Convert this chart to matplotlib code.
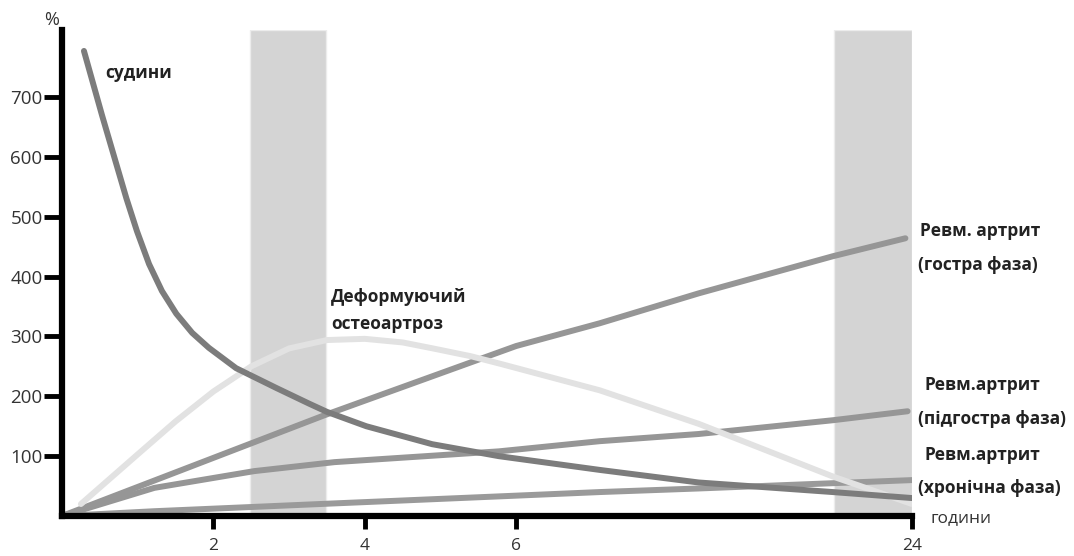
import numpy as np
import matplotlib
matplotlib.use("Agg")
import matplotlib.pyplot as plt

plt.rcParams['font.family'] = ['Open Sans', 'DejaVu Sans']

# ---- data (hours, %) ----
sudyny_h = [0.29, 0.53, 0.69, 0.85, 0.99, 1.15, 1.32, 1.51, 1.72, 1.94, 2.30, 2.83,
            3.26, 3.5, 4.02, 4.89, 5.77, 9.8, 14.3, 20.4, 24.0]
sudyny_v = [777, 669, 600, 531, 476, 421, 376, 338, 306, 281, 247, 214,
            188, 174, 150, 120, 100, 77, 56, 40, 30]

osteo_h = [0.25, 1.0, 1.5, 2.0, 2.5, 3.0, 3.5, 4.0, 4.5, 4.9, 5.4, 5.8, 9.8, 14.3, 20.4, 24.0]
osteo_v = [20, 103, 158, 208, 250, 280, 294, 296, 290, 280, 267, 254, 210, 154, 66, 20]

acute_h = [0, 3.46, 6.0, 9.8, 14.3, 20.4, 23.7]
acute_v = [0, 168, 284, 322, 372, 434, 464]

subacute_h = [0, 1.22, 2.54, 3.6, 5.77, 9.8, 14.3, 20.4, 23.8]
subacute_v = [0, 47, 75, 90, 108, 125, 137, 160, 175]

chronic_h = [0, 1.22, 3.59, 6.0, 9.8, 14.3, 24.0]
chronic_v = [0, 8, 21, 34, 40, 46, 60]

band1 = (2.49, 3.49)
band2 = (20.45, 24.0)

x_ticks = [2, 4, 6, 24]
y_ticks = [100, 200, 300, 400, 500, 600, 700]

# ---- piecewise hour scale: 0..6 linear, 6..24 compressed ----
K = 5.23 / 18.0
def fwd(h):
    h = np.asarray(h, dtype=float)
    return np.where(h <= 6, h, 6 + (h - 6) * K)
def inv(p):
    p = np.asarray(p, dtype=float)
    return np.where(p <= 6, p, 6 + (p - 6) / K)

W, H = 1074, 556
fig = plt.figure(figsize=(W / 100, H / 100), dpi=100)
ax = fig.add_axes([62 / W, (H - 516) / H, (912 - 62) / W, (516 - 30) / H])
ax.set_xscale('function', functions=(fwd, inv))
ax.set_xlim(0, 24)
ax.set_ylim(0, 812)

# bands
for b in (band1, band2):
    ax.axvspan(b[0], b[1], ymin=0, ymax=1, facecolor='#d4d4d4', edgecolor='#ececec',
               linewidth=1, zorder=1)

lw = 4.3
kw = dict(solid_capstyle='round', solid_joinstyle='round', zorder=3)
ax.plot(chronic_h, chronic_v, color='#9a9a9a', lw=lw, **kw)
ax.plot(subacute_h, subacute_v, color='#969696', lw=lw, **kw)
ax.plot(acute_h, acute_v, color='#969696', lw=lw, **kw)
ax.plot(osteo_h, osteo_v, color='#e2e2e2', lw=lw, **kw)
ax.plot(sudyny_h, sudyny_v, color='#7c7c7c', lw=lw, **kw)

# axes styling
for s in ('top', 'right'):
    ax.spines[s].set_visible(False)
for s in ('left', 'bottom'):
    ax.spines[s].set_linewidth(4.5)
    ax.spines[s].set_color('black')
    ax.spines[s].set_zorder(4)

ax.set_xticks(x_ticks)
ax.set_xticklabels([str(t) for t in x_ticks])
ax.set_yticks(y_ticks)
ax.set_yticklabels([str(t) for t in y_ticks])
ax.tick_params(axis='y', length=13, width=3.5, pad=1, labelsize=13.5, labelcolor='#333333')
ax.tick_params(axis='x', length=9, width=3.5, pad=7, labelsize=12.5, labelcolor='#333333')
ax.minorticks_off()

# texts (figure pixel coordinates)
def ftxt(x, y, s, **k):
    fig.text(x / W, 1 - y / H, s, **k)

fs = 12.5
bk = dict(ha='left', va='center', fontsize=fs, fontweight='bold', color='#222222')
ftxt(52, 20, '%', ha='center', va='center', fontsize=13, color='#333333')
ftxt(105, 73, 'судини', **bk)
ftxt(331, 297, 'Деформуючий', **bk)
ftxt(331, 324, 'остеоартроз', **bk)
ftxt(920, 231, 'Ревм. артрит', **bk)
ftxt(918, 265, '(гостра фаза)', **bk)
ftxt(924, 385, 'Ревм.артрит', **bk)
ftxt(918, 419, '(підгостра фаза)', **bk)
ftxt(924, 455, 'Ревм.артрит', **bk)
ftxt(918, 488, '(хронічна фаза)', **bk)
ftxt(930, 518, 'години', ha='left', va='center', fontsize=fs, color='#333333')

fig.savefig('out.png', dpi=100, facecolor='white')
